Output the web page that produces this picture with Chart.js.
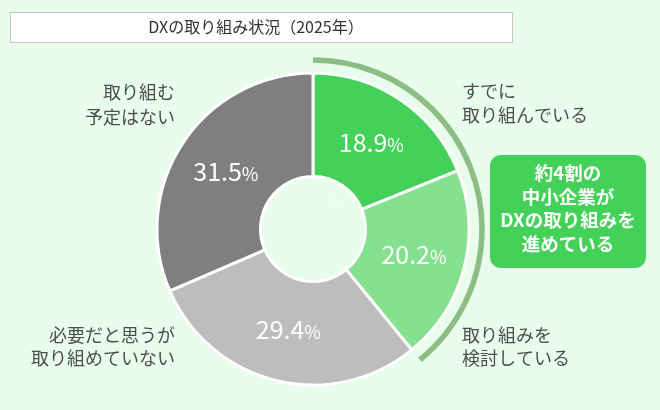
<!DOCTYPE html>
<html><head><meta charset="utf-8">
<script src="https://cdn.jsdelivr.net/npm/chart.js@4.4.1/dist/chart.umd.min.js"></script>
<style>
html,body{margin:0;padding:0;background:#e8fdec;}
#wrap{position:relative;width:660px;height:410px;}
</style></head>
<body><div id="wrap"><canvas id="c" width="660" height="410"></canvas></div>
<script>
const title = 'DXの取り組み状況（2025年）';
const categories = [
  ['すでに','取り組んでいる'],
  ['取り組みを','検討している'],
  ['必要だと思うが','取り組めていない'],
  ['取り組む','予定はない']
];
const values = [18.9, 20.2, 29.4, 31.5];
const colors = ['#44d15a', '#85e08f', '#bdbdbd', '#7f7f7f'];
const calloutLines = ['約4割の','中小企業が','DXの取り組みを','進めている'];
const FONT = '"Noto Sans CJK JP","Noto Sans",sans-serif';
const TEXT = '#4d4d4d';

const overlay = {
  id: 'overlay',
  afterDatasetsDraw(chart) {
    const ctx = chart.ctx;
    const arcs = chart.getDatasetMeta(0).data;
    const cx = arcs[0].x, cy = arcs[0].y;
    const R = arcs[0].outerRadius;
    ctx.save();
    // outer bracket arc over first two slices
    ctx.beginPath();
    ctx.arc(cx, cy, R + 13, arcs[0].startAngle, arcs[1].endAngle);
    ctx.strokeStyle = '#8cbd85';
    ctx.lineWidth = 5.5;
    ctx.stroke();

    // percentage labels
    ctx.fillStyle = '#ffffff';
    ctx.textBaseline = 'alphabetic';
    arcs.forEach((a, i) => {
      const p = a.getCenterPoint();
      const num = values[i].toFixed(1);
      ctx.font = '25px ' + FONT;
      const w1 = ctx.measureText(num).width;
      ctx.font = '18px ' + FONT;
      const w2 = ctx.measureText('%').width;
      const x0 = p.x - (w1 + w2) / 2;
      ctx.font = '25px ' + FONT;
      ctx.textAlign = 'left';
      ctx.fillText(num, x0, p.y + 9);
      ctx.font = '18px ' + FONT;
      ctx.fillText('%', x0 + w1, p.y + 9);
    });

    // faint artifact text in hole
    ctx.globalAlpha = 0.55;
    ctx.font = '15px ' + FONT;
    ctx.textAlign = 'center';
    ctx.textBaseline = 'middle';
    ctx.fillText('約', cx + 20, cy - 30);
    ctx.globalAlpha = 1;

    // category labels
    ctx.fillStyle = TEXT;
    ctx.font = '18px ' + FONT;
    ctx.textBaseline = 'middle';
    const labelPos = [
      {x: 462, y: 91, align: 'left', lh: 24},
      {x: 462, y: 335, align: 'left', lh: 23},
      {x: 175, y: 335, align: 'right', lh: 23},
      {x: 175, y: 92, align: 'right', lh: 25}
    ];
    categories.forEach((lines, i) => {
      const lp = labelPos[i];
      ctx.textAlign = lp.align;
      lines.forEach((t, j) => ctx.fillText(t, lp.x, lp.y + j * lp.lh));
    });

    // title box
    ctx.fillStyle = '#ffffff';
    ctx.fillRect(10, 12, 503, 30);
    ctx.strokeStyle = '#c4c4c4';
    ctx.lineWidth = 1;
    ctx.strokeRect(10.5, 12.5, 502, 30);
    ctx.fillStyle = '#333333';
    ctx.font = '16px ' + FONT;
    ctx.textAlign = 'center';
    ctx.fillText(title, 256, 27);

    // callout box
    const bx = 490, by = 155, bw = 156, bh = 113, r = 11;
    ctx.beginPath();
    ctx.moveTo(bx + r, by);
    ctx.arcTo(bx + bw, by, bx + bw, by + bh, r);
    ctx.arcTo(bx + bw, by + bh, bx, by + bh, r);
    ctx.arcTo(bx, by + bh, bx, by, r);
    ctx.arcTo(bx, by, bx + bw, by, r);
    ctx.closePath();
    ctx.fillStyle = '#44d15a';
    ctx.fill();
    ctx.fillStyle = '#ffffff';
    ctx.font = 'bold 18.5px ' + FONT;
    calloutLines.forEach((t, j) => ctx.fillText(t, 568, 173 + j * 23.5));
    ctx.restore();
  }
};

new Chart(document.getElementById('c'), {
  type: 'doughnut',
  data: {
    labels: categories.map(l => l.join('')),
    datasets: [{
      data: values,
      backgroundColor: colors,
      borderColor: '#ffffff',
      borderWidth: 3
    }]
  },
  options: {
    responsive: false,
    animation: false,
    radius: 156,
    cutout: 52,
    layout: {padding: {left: 157, right: 191, top: 73, bottom: 25}},
    plugins: {legend: {display: false}, tooltip: {enabled: false}, title: {display: false}}
  },
  plugins: [overlay]
});
</script></body></html>
